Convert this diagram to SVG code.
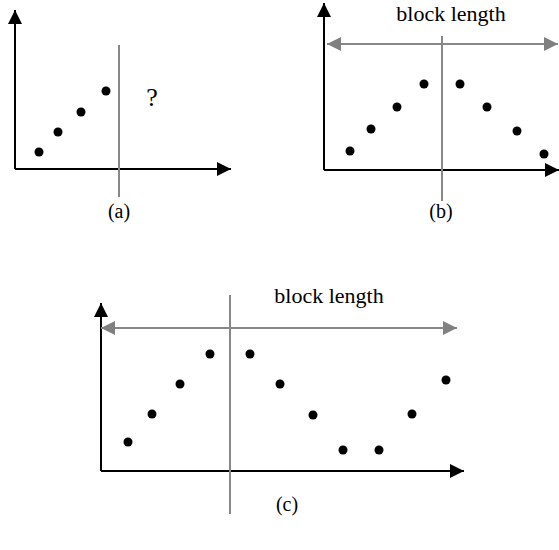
<svg xmlns="http://www.w3.org/2000/svg" width="559" height="550" viewBox="0 0 559 550">
<defs>
<marker id="ab" viewBox="0 0 10 10" refX="10" refY="5" markerWidth="14" markerHeight="14" markerUnits="userSpaceOnUse" orient="auto"><path d="M0,0 L10,5 L0,10 Z" fill="#000"/></marker>
<marker id="ag" viewBox="0 0 10 10" refX="10" refY="5" markerWidth="14" markerHeight="14" markerUnits="userSpaceOnUse" orient="auto-start-reverse"><path d="M0,0 L10,5 L0,10 Z" fill="#808080"/></marker>
</defs>
<style>
.ax{stroke:#000;stroke-width:2;fill:none}
.gl{stroke:#888;stroke-width:2;fill:none}
.dot{fill:#000}
.lbl{font-family:'Liberation Serif','Times New Roman',serif;font-size:20px;text-anchor:middle;fill:#000}
.big{font-size:22px}
.q{font-size:26px}
</style>
<g id="connectors">
<path class="ax" d="M15,169 V10" marker-end="url(#ab)"/>
<path class="ax" d="M15,169 H231" marker-end="url(#ab)"/>
<path class="gl" d="M119,45 V197"/>
<path class="ax" d="M324,170 V3" marker-end="url(#ab)"/>
<path class="ax" d="M324,170 H559" marker-end="url(#ab)"/>
<path class="gl" d="M442,36 V201"/>
<path class="gl" d="M327,44 H558" marker-start="url(#ag)" marker-end="url(#ag)"/>
<path class="ax" d="M101,471 V303" marker-end="url(#ab)"/>
<path class="ax" d="M101,471 H464" marker-end="url(#ab)"/>
<path class="gl" d="M230,295 V514"/>
<path class="gl" d="M101,328 H457" marker-start="url(#ag)" marker-end="url(#ag)"/>
</g>
<g id="panel-a">
<circle class="dot" cx="39" cy="152" r="4.5"/>
<circle class="dot" cx="58" cy="132" r="4.5"/>
<circle class="dot" cx="81" cy="112" r="4.5"/>
<circle class="dot" cx="106" cy="91" r="4.5"/>
<text class="lbl q" x="152" y="106">?</text>
<text class="lbl" x="119" y="218">(a)</text>
</g>
<g id="panel-b">
<circle class="dot" cx="350" cy="151" r="4.5"/>
<circle class="dot" cx="371" cy="129" r="4.5"/>
<circle class="dot" cx="397" cy="107" r="4.5"/>
<circle class="dot" cx="424" cy="84" r="4.5"/>
<circle class="dot" cx="460" cy="84" r="4.5"/>
<circle class="dot" cx="487" cy="107" r="4.5"/>
<circle class="dot" cx="517" cy="131" r="4.5"/>
<circle class="dot" cx="544" cy="154" r="4.5"/>
<text class="lbl big" x="451" y="21">block length</text>
<text class="lbl" x="441" y="218">(b)</text>
</g>
<g id="panel-c">
<circle class="dot" cx="128" cy="442" r="4.5"/>
<circle class="dot" cx="152" cy="414" r="4.5"/>
<circle class="dot" cx="180" cy="384" r="4.5"/>
<circle class="dot" cx="210" cy="354" r="4.5"/>
<circle class="dot" cx="250" cy="354" r="4.5"/>
<circle class="dot" cx="280" cy="384" r="4.5"/>
<circle class="dot" cx="313" cy="415" r="4.5"/>
<circle class="dot" cx="343" cy="450" r="4.5"/>
<circle class="dot" cx="379" cy="450" r="4.5"/>
<circle class="dot" cx="412" cy="414" r="4.5"/>
<circle class="dot" cx="446" cy="380" r="4.5"/>
<text class="lbl big" x="329" y="303">block length</text>
<text class="lbl" x="287" y="511">(c)</text>
</g>
</svg>
